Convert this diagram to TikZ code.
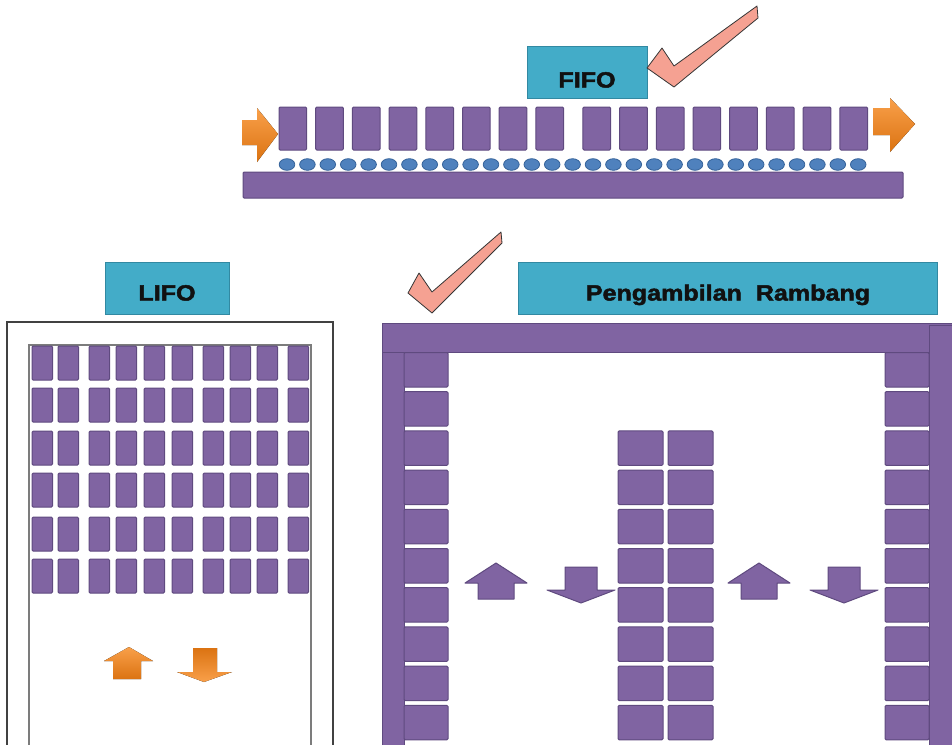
\documentclass[tikz,border=0pt]{standalone}
\usepackage{fontspec}
\setsansfont{Liberation Sans}
\newfontfamily\tagfont[FakeStretch=1.14,FakeBold=2.2]{Liberation Sans Bold}
\usetikzlibrary{calc}
\definecolor{ink}{HTML}{111111}
\definecolor{plumc}{HTML}{8064A2}
\definecolor{pluml}{HTML}{5F4A7F}
\definecolor{tagc}{HTML}{43ACC8}
\definecolor{tagl}{HTML}{3289A2}
\definecolor{peach}{HTML}{F5A192}
\definecolor{rollc}{HTML}{4F81BD}
\definecolor{rolll}{HTML}{36639A}
\definecolor{orgl}{HTML}{F9A04A}
\definecolor{orgd}{HTML}{DB7312}

\begin{document}
\begin{tikzpicture}[x=1pt, y=-1pt,
  crate/.style={fill=plumc, draw=pluml, line width=1pt, rounded corners=1.2pt},
  plumarrow/.style={fill=plumc, draw=pluml, line width=1pt, line join=round},
  tagbox/.style={fill=tagc, draw=tagl, line width=1pt, minimum height=52pt,
    inner sep=0, text=ink, text depth=0pt,
    font=\tagfont\fontsize{22}{26}\selectfont},
  okmark/.style={fill=peach, draw=ink!85, line width=0.8pt, line join=round},
  roller/.style={fill=rollc, draw=rolll, line width=0.8pt},
  wall/.style={draw=ink!80, line width=1.1pt},
  orgup/.style={top color=orgl, bottom color=orgd},
  orgdown/.style={top color=orgd, bottom color=orgl}]

\useasboundingbox (0,0) rectangle (952,744);
\clip (0,0) rectangle (952,744);

% FIFO: conveyor
\node[tagbox, minimum width=120pt, text height=31pt] (fifo) at (587,72) {FIFO};
\draw[okmark] (647,68) -- (662,48) -- (674,66) -- (757,6) -- (758,18)
  -- (674,87) -- cycle;

\foreach \i in {0,...,15}{
  \pgfmathsetmacro{\bx}{279+\i*36.7+(\i>7)*10.3}
  \draw[crate] (\bx,107) rectangle ++(27.7,43);
}
\foreach \i in {0,...,28}
  \draw[roller] ({287+\i*20.4},164.5) ellipse [x radius=7.8, y radius=5.8];
\draw[crate] (243,172) rectangle (903,198);

\fill[orgup] (242,120) -- (257,120) -- (257,108) -- (278,134) -- (257,162)
  -- (257,145) -- (242,145) -- cycle;
\fill[orgup] (873,108) -- (890,108) -- (890,98) -- (915,124) -- (890,152)
  -- (890,135) -- (873,135) -- cycle;

% LIFO: drive-in rack
\node[tagbox, minimum width=124pt, text height=25pt] (lifo) at (167,288) {LIFO};

\draw[wall] (7,750) -- (7,322) -- (333,322) -- (333,750);
\draw[wall, draw=ink!55] (29,750) -- (29,345) -- (311,345) -- (311,750);
\foreach \gx in {32,58,89,116,144,172,203,230,257,288}
  \foreach \gy in {346,388,431,473,517,559}
    \draw[crate] (\gx,\gy) rectangle ++(20.5,34);

\fill[orgup] (129,647) -- (153,661) -- (141,661) -- (141,679) -- (113,679)
  -- (113,661) -- (104,661) -- cycle;
\fill[orgdown] (193,648) -- (217,648) -- (217,672) -- (232,672) -- (204,682)
  -- (177,672) -- (193,672) -- cycle;

% random picking: open rack
\node[tagbox, minimum width=419pt, text height=25pt] (rambang) at (728,288)
  {Pengambilan\ \ Rambang};
\draw[okmark] (408,293) -- (419,273) -- (432,292) -- (501,232) -- (502,243)
  -- (432,313) -- cycle;

\draw[crate, rounded corners=0pt] (382,323) rectangle (955,352);
\draw[crate, rounded corners=0pt] (929,325) rectangle (960,760);
\draw[crate, rounded corners=0pt] (382,352) rectangle (404,760);

\foreach \k in {0,...,9}{
  \pgfmathsetmacro{\ry}{352.5+\k*39.2}
  \draw[crate] (404,\ry) rectangle ++(44,34.5);
  \draw[crate] (885,\ry) rectangle ++(44,34.5);
  \ifnum\k>1
    \draw[crate] (618,\ry) rectangle ++(45,34.5);
    \draw[crate] (668,\ry) rectangle ++(45,34.5);
  \fi
}

\foreach \ux in {496,759}
  \draw[plumarrow] (\ux,563) -- ++(31,20) -- ++(-13,0) -- ++(0,16)
    -- ++(-36,0) -- ++(0,-16) -- ++(-13,0) -- cycle;
\foreach \dx in {581,844}
  \draw[plumarrow] (\dx-16,567) -- ++(32,0) -- ++(0,23) -- ++(18,0)
    -- (\dx,603) -- (\dx-34,590) -- ++(18,0) -- cycle;

\end{tikzpicture}
\end{document}
